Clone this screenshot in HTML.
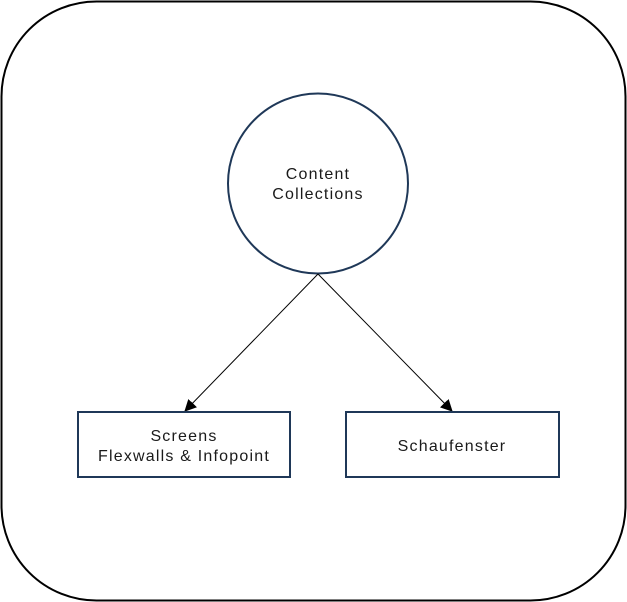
<!DOCTYPE html>
<html><head><meta charset="utf-8"><style>
html,body{margin:0;padding:0;background:#fff;}
svg{display:block;}
text{font-family:"Liberation Sans",sans-serif;font-size:16px;letter-spacing:1.2px;fill:#1a1a1a;}
</style></head><body>
<svg width="627" height="602" viewBox="0 0 627 602" xmlns="http://www.w3.org/2000/svg">
<defs><marker id="a" markerWidth="12" markerHeight="12" refX="11" refY="6" orient="auto" markerUnits="userSpaceOnUse"><path d="M0,0 L12,6 L0,12 z" fill="#000"/></marker></defs>
<rect x="1.5" y="1.5" width="624" height="599" rx="95" ry="95" fill="#fff" stroke="#000" stroke-width="2"/>
<circle cx="318" cy="183.5" r="90" fill="#fff" stroke="#1f3858" stroke-width="2"/>
<text x="318" y="179" text-anchor="middle">Content</text>
<text x="318" y="199" text-anchor="middle">Collections</text>
<line x1="318" y1="274" x2="185" y2="411" stroke="#000" stroke-width="1" marker-end="url(#a)"/>
<line x1="318" y1="274" x2="452" y2="411" stroke="#000" stroke-width="1" marker-end="url(#a)"/>
<rect x="78" y="412" width="212" height="65" fill="#fff" stroke="#1f3858" stroke-width="2"/>
<rect x="346" y="412" width="213" height="65" fill="#fff" stroke="#1f3858" stroke-width="2"/>
<text x="184" y="441" text-anchor="middle">Screens</text>
<text x="184" y="461" text-anchor="middle">Flexwalls &amp; Infopoint</text>
<text x="452" y="451" text-anchor="middle">Schaufenster</text>
</svg>
</body></html>
